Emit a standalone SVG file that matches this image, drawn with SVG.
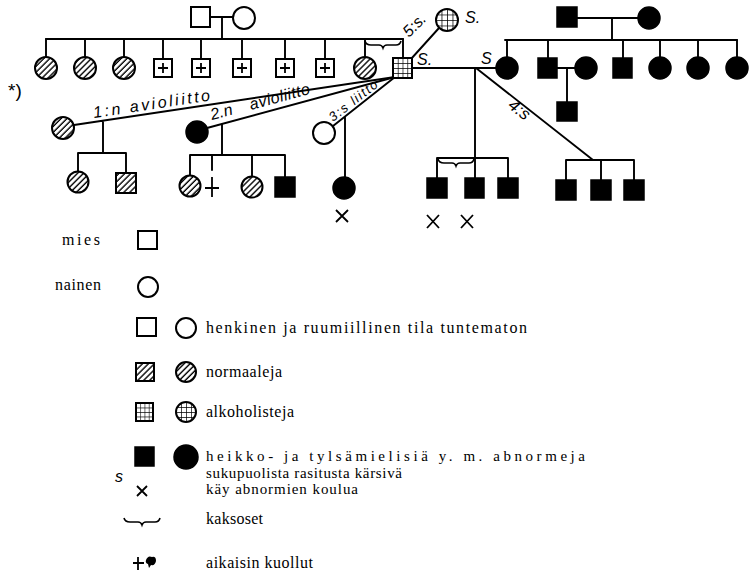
<svg xmlns="http://www.w3.org/2000/svg" width="751" height="579" viewBox="0 0 751 579">
  <defs>
    <!-- diagonal hatching: normal persons -->
    <pattern id="hatch" patternUnits="userSpaceOnUse" width="4.2" height="4.2" patternTransform="rotate(45)">
      <rect width="4.2" height="4.2" fill="#fff"/>
      <line x1="1" y1="0" x2="1" y2="4.2" stroke="#000" stroke-width="1.4"/>
    </pattern>
    <!-- cross-ruled grid: alcoholics -->
    <pattern id="grid" patternUnits="objectBoundingBox" width="0.25" height="0.25" patternContentUnits="objectBoundingBox">
      <rect width="0.25" height="0.25" fill="#fff"/>
      <path d="M0,0H0.25M0,0V0.25" stroke="#000" stroke-width="0.07" fill="none"/>
    </pattern>
    <!-- twins mark -->
    <path id="twin" d="M0,0 Q1,4 6,4 H14 Q17,4 18,7 Q19,4 22,4 H31 Q35,4 36,0" fill="none" stroke="#000" stroke-width="1.6"/>
  </defs>
  <style>
    .ln { stroke:#000; stroke-width:1.9; fill:none; stroke-linecap:round; }
    .nd { stroke:#000; stroke-width:2; fill:#fff; }
    .ht { stroke:#000; stroke-width:2; fill:url(#hatch); }
    .gr { stroke:#000; stroke-width:2; fill:url(#grid); }
    .bk { stroke:#000; stroke-width:1.5; fill:#000; }
    .x  { stroke:#000; stroke-width:1.8; fill:none; }
    .hand { font-family:"Liberation Sans", sans-serif; font-style:italic; font-size:16px; fill:#000; }
    .leg { font-family:"Liberation Serif", serif; font-size:16px; fill:#000; }
    .tight { font-size:15px; }
  </style>
  <rect width="751" height="579" fill="#fff"/>

  <!-- connectors -->
  <g id="connectors">
    <!-- left grandparents and their children -->
    <path class="ln" d="M210,17H233M222,17V39M46,39H403"/>
    <path class="ln" d="M46,39V57M85,39V57M124,39V57M163,39V59M201,39V59M242,39V59M285,39V59M325,39V59M365,39V57M403,39V58"/>
    <use href="#twin" x="365" y="41"/>
    <!-- 5th union -->
    <path class="ln" d="M411,59L439,28"/>
    <!-- 4th union and its children -->
    <path class="ln" d="M412,68H496"/>
    <path class="ln" d="M475,68V178M437,158H508M437,158V178M508,158V178"/>
    <use href="#twin" x="438" y="159"/>
    <path class="ln" d="M476,68L593,160M566,160H634M566,160V180M601,160V180M634,160V180"/>
    <!-- right grandparents and their children -->
    <path class="ln" d="M577,18H638M612,18V40M505,40H737"/>
    <path class="ln" d="M507,40V57M548,40V58M623,40V58M660,40V57M698,40V57M737,40V57"/>
    <path class="ln" d="M557,68H575M567,68V102"/>
    <!-- 1st marriage -->
    <path class="ln" d="M74,125L395,77M103,121V153M78,153H126M78,153V171M126,153V173"/>
    <!-- 2nd marriage -->
    <path class="ln" d="M207,128L395,77M222,124V155M190,155H285M190,155V175M212,155V170M252,155V177M285,155V177"/>
    <!-- 3rd union -->
    <path class="ln" d="M333,126L395,77M345,117V177"/>
  </g>

  <!-- left grandparents -->
  <g id="gf-left"><rect class="nd" x="191" y="7" width="19" height="20"/></g>
  <g id="gm-left"><circle class="nd" cx="244" cy="18" r="11"/></g>

  <!-- siblings -->
  <g id="sib1"><circle class="ht" cx="46" cy="68" r="11"/></g>
  <g id="sib2"><circle class="ht" cx="85" cy="68" r="11"/></g>
  <g id="sib3"><circle class="ht" cx="124" cy="68" r="11"/></g>
  <g id="sib4"><rect class="nd" x="154" y="59" width="18" height="18"/><path class="x" d="M158,68H168M163,63V73"/></g>
  <g id="sib5"><rect class="nd" x="192" y="59" width="18" height="18"/><path class="x" d="M196,68H206M201,63V73"/></g>
  <g id="sib6"><rect class="nd" x="233" y="59" width="18" height="18"/><path class="x" d="M237,68H247M242,63V73"/></g>
  <g id="sib7"><rect class="nd" x="276" y="59" width="18" height="18"/><path class="x" d="M280,68H290M285,63V73"/></g>
  <g id="sib8"><rect class="nd" x="316" y="59" width="18" height="18"/><path class="x" d="M320,68H330M325,63V73"/></g>
  <g id="sib9"><circle class="ht" cx="365" cy="68" r="11"/></g>

  <!-- proband -->
  <g id="proband">
    <rect class="gr" x="393" y="58" width="19" height="20"/>
    <text class="hand" x="417" y="65">S.</text>
  </g>

  <!-- 5th partner -->
  <g id="partner5">
    <circle class="gr" cx="447" cy="20" r="11"/>
    <text class="hand" x="465" y="23">S.</text>
    <text class="hand" transform="translate(409,38) rotate(-45)">5:s.</text>
  </g>

  <!-- 4th partner -->
  <g id="partner4">
    <circle class="bk" cx="507" cy="68" r="11"/>
    <text class="hand" x="481" y="64">S</text>
    <text class="hand" transform="translate(507,107) rotate(38)" style="font-size:17px">4:s</text>
  </g>

  <!-- children of 4th union -->
  <g id="k4-1"><rect class="bk" x="427" y="178" width="20" height="20"/><path class="x" d="M427,215L439,228M439,215L427,228"/></g>
  <g id="k4-2"><rect class="bk" x="465" y="178" width="19" height="20"/><path class="x" d="M461,215L473,228M473,215L461,228"/></g>
  <g id="k4-3"><rect class="bk" x="498" y="178" width="20" height="20"/></g>
  <g id="k4-4"><rect class="bk" x="556" y="180" width="20" height="20"/></g>
  <g id="k4-5"><rect class="bk" x="591" y="180" width="20" height="20"/></g>
  <g id="k4-6"><rect class="bk" x="624" y="180" width="20" height="20"/></g>

  <!-- right grandparents and their other children -->
  <g id="gf-right"><rect class="bk" x="557" y="7" width="20" height="20"/></g>
  <g id="gm-right"><circle class="bk" cx="649" cy="18" r="11"/></g>
  <g id="rs1"><rect class="bk" x="538" y="58" width="19" height="20"/></g>
  <g id="rs1-wife"><circle class="bk" cx="586" cy="68" r="11"/></g>
  <g id="rs1-son"><rect class="bk" x="557" y="102" width="20" height="19"/></g>
  <g id="rs2"><rect class="bk" x="613" y="58" width="19" height="20"/></g>
  <g id="rs3"><circle class="bk" cx="660" cy="68" r="11"/></g>
  <g id="rs4"><circle class="bk" cx="698" cy="68" r="11"/></g>
  <g id="rs5"><circle class="bk" cx="737" cy="68" r="11"/></g>

  <!-- 1st marriage -->
  <g id="wife1">
    <circle class="ht" cx="63" cy="128" r="11"/>
    <text class="hand" transform="translate(94,118) rotate(-8.6)" textLength="118">1:n avioliitto</text>
  </g>
  <g id="k1-1"><circle class="ht" cx="78" cy="182" r="10.5"/></g>
  <g id="k1-2"><rect class="ht" x="116" y="173" width="20" height="20"/></g>
  <text class="hand" x="8" y="97" style="font-style:normal;font-size:19px">*)</text>

  <!-- 2nd marriage -->
  <g id="wife2">
    <circle class="bk" cx="197" cy="132" r="11"/>
    <text class="hand" transform="translate(212,120) rotate(-15)">2.n</text>
    <text class="hand" transform="translate(251,110) rotate(-15.3)" textLength="62">avioliitto</text>
  </g>
  <g id="k2-1"><circle class="ht" cx="190" cy="186" r="10.5"/></g>
  <g id="k2-2"><path class="x" d="M205,188H219M212,177V197"/></g>
  <g id="k2-3"><circle class="ht" cx="252" cy="187" r="10.5"/></g>
  <g id="k2-4"><rect class="bk" x="275" y="177" width="20" height="20"/></g>

  <!-- 3rd union -->
  <g id="partner3">
    <circle class="nd" cx="324" cy="133" r="11"/>
    <text class="hand" transform="translate(333,122) rotate(-38)" textLength="58" style="font-size:13px">3:s liitto</text>
  </g>
  <g id="k3-1"><circle class="bk" cx="344" cy="188" r="11"/><path class="x" d="M336,210L348,222M348,210L336,222"/></g>

  <!-- key -->
  <g id="legend">
    <text class="leg" x="100" y="245" text-anchor="end" textLength="38">mies</text>
    <rect class="nd" x="138" y="231" width="19" height="18"/>
    <text class="leg" x="101" y="290" text-anchor="end" textLength="46">nainen</text>
    <circle class="nd" cx="148" cy="287" r="10"/>

    <rect class="nd" x="137" y="318" width="19" height="18"/>
    <circle class="nd" cx="186" cy="328" r="10"/>
    <text class="leg" x="206" y="333" textLength="321">henkinen ja ruumiillinen tila tuntematon</text>

    <rect class="ht" x="136" y="363" width="18" height="18"/>
    <circle class="ht" cx="186" cy="372" r="10"/>
    <text class="leg" x="206" y="377" textLength="76">normaaleja</text>

    <rect class="gr" x="136" y="403" width="17" height="18"/>
    <circle class="gr" cx="186" cy="412" r="10"/>
    <text class="leg" x="206" y="417" textLength="88">alkoholisteja</text>

    <rect class="bk" x="135" y="447" width="19" height="19"/>
    <circle class="bk" cx="186" cy="457" r="12"/>
    <text class="leg tight" x="206" y="461" textLength="379">heikko- ja tylsämielisiä y. m. abnormeja</text>

    <text class="hand" x="115" y="482">s</text>
    <text class="leg tight" x="206" y="477.5" textLength="196">sukupuolista rasitusta kärsivä</text>

    <path class="x" d="M137,486L147,496M147,486L137,496"/>
    <text class="leg tight" x="206" y="494" textLength="152">käy abnormien koulua</text>

    <use href="#twin" x="124" y="518"/>
    <text class="leg" x="206" y="524" textLength="57">kaksoset</text>

    <path class="x" d="M133,563H144M138,557V570"/>
    <path d="M146,560 Q148,555 152,557 Q156,556 156,561 Q155,566 151,565 L149,568 L148,564 Q145,563 146,560Z" fill="#000"/>
    <text class="leg" x="206" y="568" textLength="107">aikaisin kuollut</text>
  </g>
</svg>
